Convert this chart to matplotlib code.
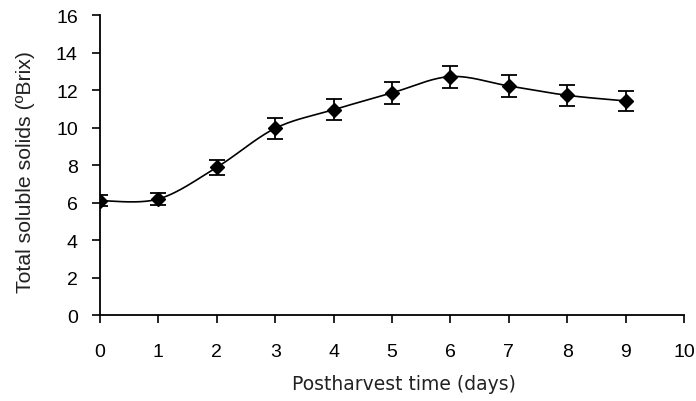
import numpy as np
import matplotlib
matplotlib.use("Agg")
import matplotlib.pyplot as plt

days = [0, 1, 2, 3, 4, 5, 6, 7, 8, 9]
tss = [6.10, 6.19, 7.88, 9.96, 10.95, 11.85, 12.72, 12.22, 11.72, 11.42]
err = [0.31, 0.30, 0.39, 0.55, 0.55, 0.60, 0.59, 0.60, 0.55, 0.55]
xticks = list(range(0, 11))
yticks = list(range(0, 17, 2))


def smooth(x, y, n=30):
    x = np.asarray(x, float)
    y = np.asarray(y, float)
    xs, ys = [], []
    for i in range(len(x) - 1):
        p0 = (x[i - 1], y[i - 1]) if i > 0 else (x[i], y[i])
        p1 = (x[i], y[i])
        p2 = (x[i + 1], y[i + 1])
        p3 = (x[i + 2], y[i + 2]) if i + 2 < len(x) else (x[i + 1], y[i + 1])
        t = np.linspace(0, 1, n)
        for k in range(2):
            a, b, c, d = p0[k], p1[k], p2[k], p3[k]
            c1 = b + (c - a) / 6
            c2 = c - (d - b) / 6
            v = (1 - t) ** 3 * b + 3 * (1 - t) ** 2 * t * c1 + 3 * (1 - t) * t ** 2 * c2 + t ** 3 * c
            (xs if k == 0 else ys).append(v)
    return np.concatenate(xs), np.concatenate(ys)


fig = plt.figure(figsize=(6.96, 4.02), dpi=100)
ax = fig.add_axes([0.1437, 0.2139, 0.8391, 0.7461])

sx, sy = smooth(days, tss)
ax.plot(sx, sy, color="black", lw=1.2)
ax.errorbar(days, tss, yerr=err, fmt="D", color="black", ms=7.5, capsize=5.5,
            elinewidth=1.3, capthick=1.3, ecolor="black")

ax.set_xlim(0, 10)
ax.set_ylim(0, 16)
ax.set_xticks(xticks)
ax.set_yticks(yticks)
for s in ["top", "right"]:
    ax.spines[s].set_visible(False)
for s in ["left", "bottom"]:
    ax.spines[s].set_linewidth(1.3)
ax.tick_params(direction="out", length=6, width=1.2, labelsize=14)
ax.tick_params(axis="x", pad=14)
ax.tick_params(axis="y", pad=10)
for lab in ax.get_xticklabels() + ax.get_yticklabels():
    lab.set_fontfamily("Liberation Sans")
ax.set_xlabel("Postharvest time (days)", fontsize=13.5, family="DejaVu Sans",
              color="#222222", labelpad=10.5)
ax.set_ylabel("Total soluble solids (ºBrix)", fontsize=15.3, family="Liberation Sans",
              color="#222222", labelpad=15)
ax.xaxis.label.set_x(0.52)
ax.yaxis.label.set_y(0.48)

fig.savefig("out.png", dpi=100)
